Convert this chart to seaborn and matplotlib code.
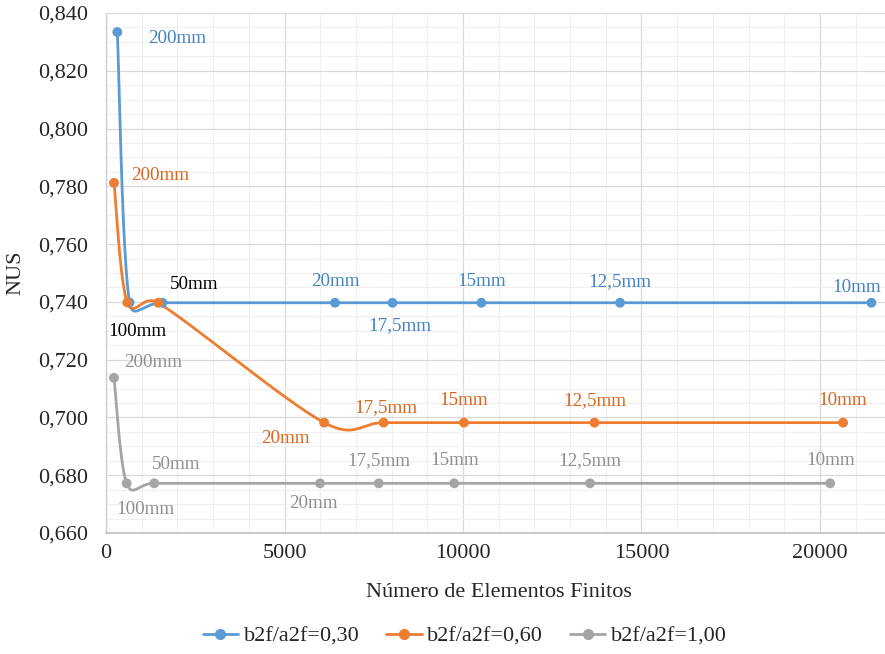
import numpy as np
import pandas as pd
import matplotlib
matplotlib.use("Agg")
import matplotlib.pyplot as plt
import seaborn as sns
from matplotlib.ticker import MultipleLocator, FuncFormatter, FixedLocator
from matplotlib.lines import Line2D

# ---------------- data ----------------
series_names = ["b2f/a2f=0,30", "b2f/a2f=0,60", "b2f/a2f=1,00"]
mesh_labels = ["200mm", "100mm", "50mm", "20mm", "17,5mm", "15mm", "12,5mm", "10mm"]

elements_030 = [317, 660, 1580, 6415, 8025, 10515, 14400, 21440]
nus_030 = [0.8334, 0.7398, 0.7397, 0.7397, 0.7397, 0.7397, 0.7397, 0.7397]

elements_060 = [224, 596, 1463, 6110, 7775, 10027, 13683, 20646]
nus_060 = [0.7812, 0.7398, 0.7397, 0.6982, 0.6982, 0.6982, 0.6982, 0.6982]

elements_100 = [224, 578, 1351, 5996, 7638, 9755, 13559, 20283]
nus_100 = [0.7137, 0.6772, 0.6772, 0.6772, 0.6772, 0.6772, 0.6772, 0.6772]

x_ticks = [0, 5000, 10000, 15000, 20000]

# ---------------- style ----------------
line_colors = ["#5B9BD5", "#ED7D31", "#A5A5A5"]
label_colors = ["#4383C4", "#D9661F", "#8F8F8F"]

# label layout: per series, per point: (dx_px, dy_px, color override or None); None = no label
label_layout = [
    [(60, -6, None), (8, -29, "black"), (32, 18, "black"), (0, 21, None),
     (7, -23, None), (0, 21, None), (0, 21, None), (-15, 15, None)],
    [(46, 7, None), None, None, (-39, -16, None),
     (2, 15, None), (0, 22, None), (0, 22, None), (0, 22, None)],
    [(39, 15, None), (19, -26, None), (22, 19, None), (-7, -20, None),
     (0, 23, None), (0, 23, None), (0, 23, None), (0, 23, None)],
]

sns.set_theme(style="white")
plt.rcParams["font.family"] = ["Liberation Serif", "DejaVu Serif"]

W, H = 885, 654
fig = plt.figure(figsize=(W / 100, H / 100), dpi=100)
left, right, top, bottom = 106, 891.4, 13, 533
ax = fig.add_axes([left / W, 1 - bottom / H, (right - left) / W, (bottom - top) / H])
ax.set_xlim(0, 22000)
ax.set_ylim(0.660, 0.840)

# grid
ax.xaxis.set_major_locator(FixedLocator(x_ticks))
ax.xaxis.set_minor_locator(MultipleLocator(1000))
ax.yaxis.set_major_locator(MultipleLocator(0.020))
ax.yaxis.set_minor_locator(MultipleLocator(0.005))
ax.grid(which="minor", color="#F0F0F0", linewidth=0.8)
ax.grid(which="major", color="#D9D9D9", linewidth=0.9)
ax.set_axisbelow(True)
ax.yaxis.set_major_formatter(FuncFormatter(lambda v, p: f"{v:.3f}".replace(".", ",")))
ax.xaxis.set_major_formatter(FuncFormatter(lambda v, p: f"{int(round(v))}"))
ax.tick_params(which="both", length=0, labelsize=16, labelcolor="#262626")
ax.tick_params(axis="y", pad=13)
ax.tick_params(axis="x", pad=8)
for s in ["top", "right"]:
    ax.spines[s].set_visible(False)
ax.spines["left"].set_color("#D0D0D0")
ax.spines["bottom"].set_color("#BFBFBF")
ax.spines["left"].set_linewidth(1.0)
ax.spines["bottom"].set_linewidth(1.2)


def excel_smooth(xs, ys, n=40):
    P = ax.transData.transform(np.column_stack([xs, ys]))
    out = [P[0]]
    for i in range(len(P) - 1):
        p0 = P[i - 1] if i > 0 else P[i]
        p1, p2 = P[i], P[i + 1]
        p3 = P[i + 2] if i + 2 < len(P) else P[i + 1]
        seg = np.linalg.norm(p2 - p1)
        c1v = (p2 - p0) / 6.0
        c2v = (p3 - p1) / 6.0
        lim = 0.6 * seg
        for v in (c1v, c2v):
            nv = np.linalg.norm(v)
            if nv > lim and nv > 0:
                v *= lim / nv
        c1 = p1 + c1v
        c2 = p2 - c2v
        t = np.linspace(0, 1, n)[1:, None]
        B = ((1 - t) ** 3) * p1 + 3 * ((1 - t) ** 2) * t * c1 + 3 * (1 - t) * t ** 2 * c2 + t ** 3 * p2
        out.extend(B)
    return ax.transData.inverted().transform(np.array(out))


all_x = [elements_030, elements_060, elements_100]
all_y = [nus_030, nus_060, nus_100]

curve_frames, point_frames = [], []
for name, xs, ys in zip(series_names, all_x, all_y):
    c = excel_smooth(xs, ys)
    curve_frames.append(pd.DataFrame({"x": c[:, 0], "y": c[:, 1], "serie": name}))
    point_frames.append(pd.DataFrame({"x": xs, "y": ys, "serie": name}))
curves = pd.concat(curve_frames, ignore_index=True)
points = pd.concat(point_frames, ignore_index=True)

palette = dict(zip(series_names, line_colors))
sns.lineplot(data=curves, x="x", y="y", hue="serie", palette=palette, sort=False,
             estimator=None, linewidth=2.0, legend=False, ax=ax)
sns.scatterplot(data=points, x="x", y="y", hue="serie", palette=palette, s=50,
                edgecolor="none", legend=False, ax=ax, zorder=5)

for si, (xs, ys) in enumerate(zip(all_x, all_y)):
    for pi, (xv, yv) in enumerate(zip(xs, ys)):
        lay = label_layout[si][pi]
        if lay is None:
            continue
        dx, dy, col = lay
        ax.annotate(mesh_labels[pi], (xv, yv), xytext=(dx, dy), textcoords="offset pixels",
                    ha="center", va="center", fontsize=13.7,
                    color=col if col else label_colors[si], zorder=6)

ax.set_xlabel("Número de Elementos Finitos", fontsize=16, color="#262626", labelpad=14)
ax.set_ylabel("NUS", fontsize=16, color="#262626", labelpad=9)

handles = [Line2D([0], [0], color=c, lw=2.0, marker="o", markersize=7) for c in line_colors]
fig.legend(handles, series_names, loc="center", bbox_to_anchor=(0.525, 1 - 636 / H), ncol=3,
           frameon=False, fontsize=16, handlelength=1.6, handletextpad=0.25, columnspacing=1.2,
           labelcolor="#262626")

fig.savefig("out.png", dpi=100)
